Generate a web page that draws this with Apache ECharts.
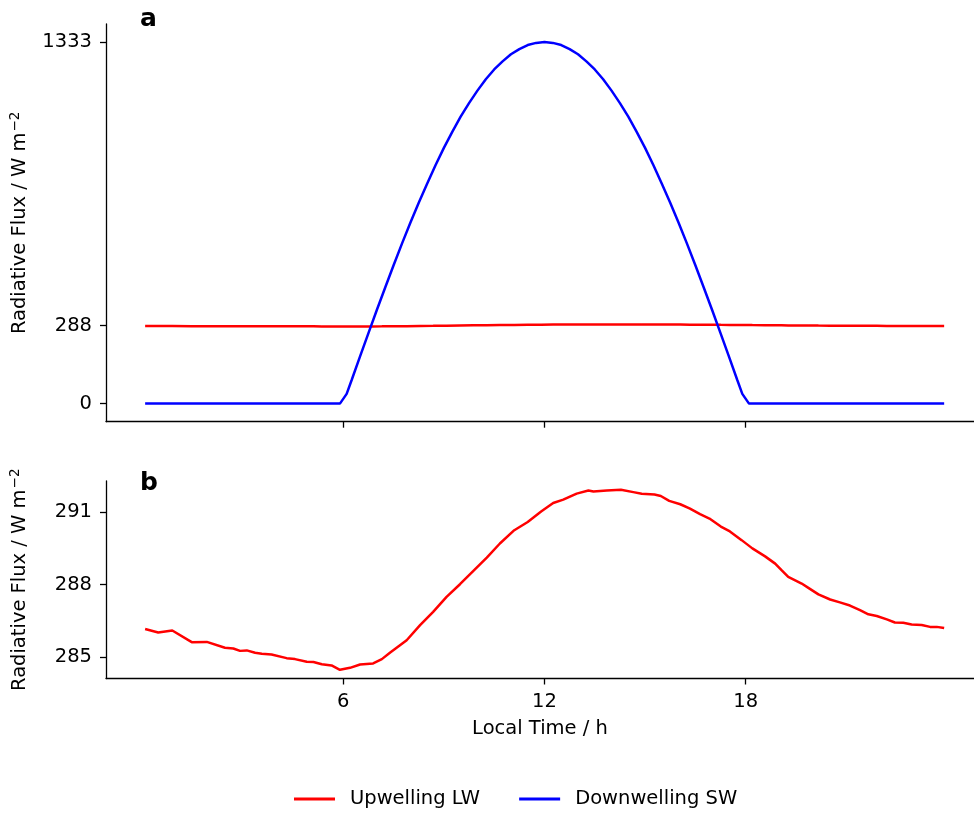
<!DOCTYPE html>
<html>
<head>
<meta charset="utf-8">
<script src="https://cdn.jsdelivr.net/npm/echarts@6/dist/echarts.min.js"></script>
<style>
  html, body { margin: 0; padding: 0; background: #ffffff; }
  #chart { width: 974px; height: 815px; }
</style>
</head>
<body>
<div id="chart"></div>
<script>
// Diurnal cycle of surface radiative fluxes (local time in hours)
const lwHours = [0.09, 0.48, 0.90, 1.48, 1.93, 2.47, 2.72, 2.92, 3.12, 3.37, 3.57, 3.86, 4.31, 4.56, 4.91, 5.11,
  5.36, 5.65, 5.90, 6.20, 6.50, 6.89, 7.15, 7.39, 7.64, 7.89, 8.29, 8.68, 9.08, 9.48, 9.88, 10.28, 10.67,
  11.10, 11.50, 11.90, 12.26, 12.56, 12.96, 13.31, 13.46, 13.86, 14.28, 14.65, 14.90, 15.28, 15.47, 15.72,
  16.05, 16.34, 16.64, 16.92, 17.26, 17.53, 17.88, 18.20, 18.58, 18.88, 19.07, 19.27, 19.67, 19.87, 20.17,
  20.52, 20.81, 21.11, 21.41, 21.66, 21.91, 22.21, 22.45, 22.70, 22.95, 23.25, 23.50, 23.70, 23.92];
const lwFlux = [286.17, 286.03, 286.11, 285.63, 285.64, 285.40, 285.37, 285.27, 285.29, 285.19, 285.15, 285.12,
  284.97, 284.93, 284.82, 284.81, 284.72, 284.67, 284.49, 284.57, 284.71, 284.75, 284.93, 285.19, 285.45,
  285.71, 286.33, 286.88, 287.50, 288.02, 288.57, 289.12, 289.70, 290.25, 290.59, 291.02, 291.37, 291.51,
  291.76, 291.89, 291.85, 291.89, 291.92, 291.82, 291.75, 291.72, 291.66, 291.46, 291.32, 291.14, 290.91,
  290.73, 290.40, 290.20, 289.84, 289.50, 289.17, 288.87, 288.60, 288.32, 288.05, 287.87, 287.60, 287.39,
  287.27, 287.14, 286.95, 286.78, 286.71, 286.57, 286.44, 286.43, 286.36, 286.34, 286.26, 286.26, 286.21];

const swHours = [0.09, 5.90, 6.10, 6.25, 6.50, 6.75, 7.00, 7.25, 7.50, 7.75, 8.00, 8.25, 8.50, 8.75, 9.00,
  9.25, 9.50, 9.75, 10.00, 10.25, 10.50, 10.75, 11.00, 11.25, 11.50, 11.75, 12.00,
  12.25, 12.50, 12.75, 13.00, 13.25, 13.50, 13.75, 14.00, 14.25, 14.50, 14.75, 15.00,
  15.25, 15.50, 15.75, 16.00, 16.25, 16.50, 16.75, 17.00, 17.25, 17.50, 17.75, 17.90, 18.10, 23.92];
const swFlux = [0, 0, 36, 87, 174, 260, 345, 428, 510, 590, 667, 741, 811, 879, 943,
  1002, 1058, 1108, 1154, 1196, 1232, 1262, 1288, 1307, 1322, 1330, 1333,
  1330, 1322, 1307, 1288, 1262, 1232, 1196, 1154, 1108, 1058, 1002, 943,
  879, 811, 741, 667, 590, 510, 428, 345, 260, 174, 87, 36, 0, 0];

const hourTicks = [6, 12, 18];
const fluxTicksA = [0, 288, 1333];
const fluxTicksB = [285, 288, 291];

const seriesNames = ['Upwelling LW', 'Downwelling SW'];
const lwColor = '#ff0000';
const swColor = '#0000ff';

const pairs = (xs, ys) => xs.map((x, i) => [x, ys[i]]);

const FONT = 'DejaVu Sans';
const SIZE = 19.5;
const ink = '#000000';
const spine = { show: true, onZero: false, lineStyle: { color: ink, width: 1.3 } };
const yName = 'Radiative Flux / W m{sup|−2}';
const yNameStyle = {
  fontFamily: FONT, fontSize: SIZE, color: ink,
  rich: { sup: { fontFamily: FONT, fontSize: 13.5, color: ink, padding: [0, 0, 10, 1] } }
};
const plain = v => String(v);

function xAxis(gridIndex, withLabels) {
  return {
    type: 'value', gridIndex, min: -1.077, max: 24.81,
    axisLine: spine,
    axisTick: { show: true, inside: false, length: 6, customValues: hourTicks, lineStyle: { color: ink, width: 1.3 } },
    axisLabel: { show: withLabels, customValues: hourTicks, formatter: plain, color: ink, fontFamily: FONT, fontSize: SIZE, margin: 13 },
    splitLine: { show: false },
    name: withLabels ? 'Local Time / h' : '',
    nameLocation: 'middle', nameGap: 40,
    nameTextStyle: { fontFamily: FONT, fontSize: SIZE, color: ink }
  };
}

function yAxis(gridIndex, min, max, ticks) {
  return {
    type: 'value', gridIndex, min, max,
    axisLine: spine,
    axisTick: { show: true, inside: false, length: 6, customValues: ticks, lineStyle: { color: ink, width: 1.3 } },
    axisLabel: { customValues: ticks, formatter: plain, color: ink, fontFamily: FONT, fontSize: SIZE, margin: 14 },
    splitLine: { show: false },
    name: yName, nameLocation: 'middle', nameGap: 74, nameRotate: 90,
    nameTextStyle: yNameStyle
  };
}

const chart = echarts.init(document.getElementById('chart'), null, { renderer: 'canvas' });
chart.setOption({
  backgroundColor: '#ffffff',
  animation: false,
  textStyle: { fontFamily: FONT },
  grid: [
    { left: 106, right: 0, top: 24, height: 397.7 },
    { left: 106, right: 0, top: 481, height: 197.5 }
  ],
  xAxis: [xAxis(0, false), xAxis(1, true)],
  yAxis: [
    yAxis(0, -66.65, 1399.65, fluxTicksA),
    yAxis(1, 284.13, 292.28, fluxTicksB)
  ],
  legend: {
    data: seriesNames,
    left: 294, top: 789, padding: 0,
    icon: 'rect', itemWidth: 41, itemHeight: 3, itemGap: 39,
    textStyle: { fontFamily: FONT, fontSize: SIZE, color: ink, padding: [0, 0, 0, 10] }
  },
  graphic: [
    { type: 'text', left: 140, top: 7, style: { text: 'a', fontFamily: FONT, fontWeight: 'bold', fontSize: 25, fill: ink } },
    { type: 'text', left: 140, top: 471, style: { text: 'b', fontFamily: FONT, fontWeight: 'bold', fontSize: 25, fill: ink } }
  ],
  series: [
    {
      name: seriesNames[0], type: 'line', xAxisIndex: 0, yAxisIndex: 0,
      data: pairs(lwHours, lwFlux), showSymbol: false, symbol: 'none',
      lineStyle: { color: lwColor, width: 2.5 }, itemStyle: { color: lwColor }, z: 2
    },
    {
      name: seriesNames[1], type: 'line', xAxisIndex: 0, yAxisIndex: 0,
      data: pairs(swHours, swFlux), showSymbol: false, symbol: 'none',
      lineStyle: { color: swColor, width: 2.5 }, itemStyle: { color: swColor }, z: 3
    },
    {
      name: seriesNames[0], type: 'line', xAxisIndex: 1, yAxisIndex: 1,
      data: pairs(lwHours, lwFlux), showSymbol: false, symbol: 'none',
      lineStyle: { color: lwColor, width: 2.5 }, itemStyle: { color: lwColor }
    }
  ]
});
</script>
</body>
</html>
